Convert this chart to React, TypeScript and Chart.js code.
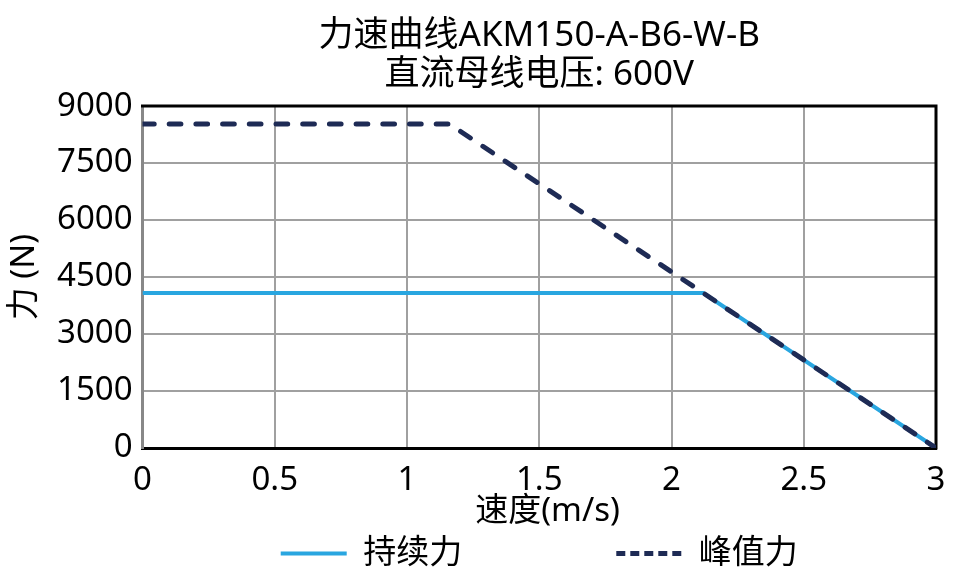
import { useEffect, useRef } from 'react';
import { Chart, registerables } from 'chart.js';

Chart.register(...registerables);

const titleLines = ['力速曲线AKM150-A-B6-W-B', '直流母线电压: 600V'];
const xAxisTitle = '速度(m/s)';
const yAxisTitle = '力 (N)';
const continuousLabel = '持续力';
const peakLabel = '峰值力';

const continuousSpeed = [0, 2.12, 3];
const continuousForce = [4080, 4080, 0];
const peakSpeed = [0, 1.16, 3];
const peakForce = [8530, 8530, 0];

const xMin = 0;
const xMax = 3;
const xStep = 0.5;
const yMin = 0;
const yMax = 9000;
const yStep = 1500;

const FONT = "'Noto Sans', 'Noto Sans CJK SC', sans-serif";
const BLUE = '#29a6e0';
const NAVY = '#1e2b55';

const framePlugin = {
  id: 'frame',
  beforeDatasetsDraw(chart: any) {
    const { ctx, chartArea } = chart;
    const { left, top, right, bottom } = chartArea;
    ctx.save();
    ctx.strokeStyle = '#000';
    ctx.lineWidth = 3;
    ctx.beginPath();
    ctx.moveTo(left - 1.5, top);
    ctx.lineTo(right, top);
    ctx.lineTo(right, bottom + 1.5);
    ctx.stroke();
    ctx.restore();
  },
};

export default function App() {
  const ref = useRef<HTMLCanvasElement | null>(null);

  useEffect(() => {
    if (!ref.current) return;
    const toPoints = (xs: number[], ys: number[]) => xs.map((x, i) => ({ x, y: ys[i] }));
    const chart = new Chart(ref.current, {
      type: 'line',
      data: {
        datasets: [
          {
            label: peakLabel,
            data: toPoints(peakSpeed, peakForce),
            borderColor: NAVY,
            backgroundColor: NAVY,
            borderWidth: 5,
            borderDash: [11.7, 15],
            borderCapStyle: 'round',
            pointRadius: 0,
            tension: 0,
          },
          {
            label: continuousLabel,
            data: toPoints(continuousSpeed, continuousForce),
            borderColor: BLUE,
            backgroundColor: BLUE,
            borderWidth: 4,
            pointRadius: 0,
            tension: 0,
          },
        ],
      },
      plugins: [framePlugin],
      options: {
        animation: false,
        responsive: true,
        maintainAspectRatio: false,
        layout: { padding: { left: 0, right: 27, top: 0, bottom: 0 } },
        plugins: {
          title: {
            display: true,
            text: titleLines,
            color: '#000',
            fullSize: false,
            font: { family: FONT, size: 35, weight: 'normal', lineHeight: 1.13 },
            padding: { top: 16, bottom: 11 },
          },
          legend: {
            display: true,
            position: 'bottom',
            fullSize: false,
            reverse: true,
            labels: {
              color: '#000',
              font: { family: FONT, size: 33, lineHeight: 1 },
              usePointStyle: true,
              pointStyle: 'line',
              pointStyleWidth: 66,
              padding: 30,
              generateLabels: (c: any) => {
                const items = (Chart.defaults.plugins.legend.labels as any).generateLabels(c);
                return items.map((it: any) => {
                  if (it.datasetIndex === 1) {
                    return { ...it, text: it.text + '\u3000\u3000\u3000\u2002 ', lineDash: [], lineCap: 'butt' };
                  }
                  return { ...it, lineDash: [9, 5], lineCap: 'butt' };
                });
              },
            },
          },
          tooltip: { enabled: false },
        },
        scales: {
          x: {
            type: 'linear',
            min: xMin,
            max: xMax,
            border: { color: '#000', width: 3 },
            grid: { color: '#a0a0a0', lineWidth: 2, drawTicks: true, tickLength: 16, tickColor: 'rgba(0,0,0,0)' },
            ticks: {
              stepSize: xStep,
              color: '#000',
              padding: 0,
              maxRotation: 0,
              font: { family: FONT, size: 33, lineHeight: 1 },
              callback: (v: any) => String(v),
            },
            title: {
              display: true,
              text: '\u2002' + xAxisTitle,
              color: '#000',
              font: { family: FONT, size: 33, lineHeight: 0.8 },
              padding: { top: 1.8, bottom: -18.2 },
            },
          },
          y: {
            type: 'linear',
            min: yMin,
            max: yMax,
            border: { color: '#888', width: 3 },
            grid: { color: '#a0a0a0', lineWidth: 2, drawTicks: false },
            ticks: {
              stepSize: yStep,
              color: '#000',
              padding: 10,
              font: { family: FONT, size: 33, lineHeight: 1 },
              callback: (v: any) => String(v),
            },
            title: {
              display: true,
              text: yAxisTitle,
              color: '#000',
              font: { family: FONT, size: 33, lineHeight: 1 },
              padding: { top: 8, bottom: 6 },
            },
          },
        },
      },
    } as any);
    return () => chart.destroy();
  }, []);

  return (
    <div style={{ position: 'fixed', left: 0, top: 0, width: 963, height: 580, background: '#fff' }}>
      <canvas ref={ref} />
    </div>
  );
}
